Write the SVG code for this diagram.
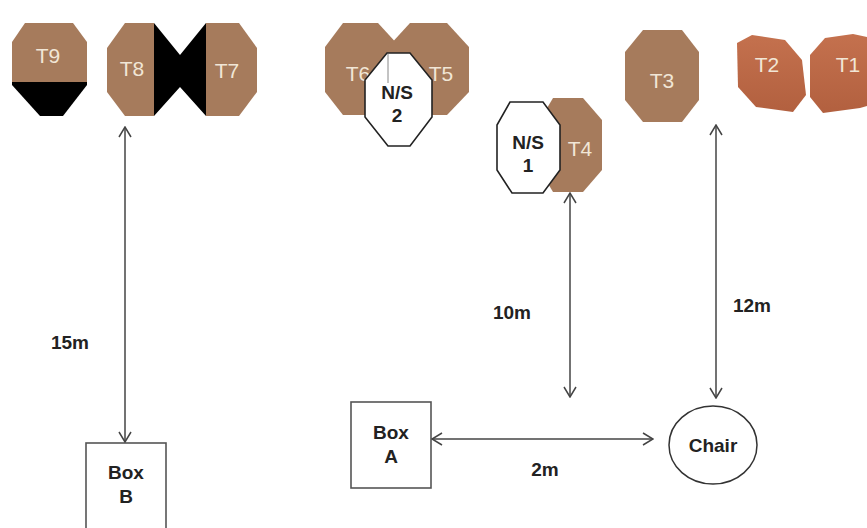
<svg xmlns="http://www.w3.org/2000/svg" width="867" height="528" viewBox="0 0 867 528">
<style>
.tan{fill:#a67b5c}
.blk{fill:#000}
.ns{fill:#fff;stroke:#222;stroke-width:1.6}
.tl{font-family:"Liberation Sans",Arial,sans-serif;font-size:21px;fill:#f1e6d6;text-anchor:middle}
.bl{font-family:"Liberation Sans",Arial,sans-serif;font-size:19px;font-weight:bold;fill:#222;text-anchor:middle}
.box{fill:#fff;stroke:#555;stroke-width:1.6}
.con{stroke:#444;stroke-width:1.5;fill:none;marker-start:url(#ah);marker-end:url(#ah)}
</style>
<defs>
<marker id="ah" viewBox="0 0 12 14" refX="11" refY="7" markerWidth="12" markerHeight="14" markerUnits="userSpaceOnUse" orient="auto-start-reverse">
<path d="M1,1 L11,7 L1,13" fill="none" stroke="#444" stroke-width="1.5"/>
</marker>
<linearGradient id="rg" x1="0" y1="0" x2="0" y2="1">
<stop offset="0" stop-color="#c4714e"/>
<stop offset="1" stop-color="#b2603f"/>
</linearGradient>
</defs>
<rect width="867" height="528" fill="#fff"/>

<g id="T9">
<polygon class="tan" points="25,23 73,23 87,42 87,83 12,83 12,42"/>
<polygon class="blk" points="12,82 87,82 87,85 63,116 40,116 12,85"/>
<text class="tl" x="48" y="63">T9</text>
</g>

<g id="T8">
<polygon class="tan" points="125,23 154,23 154,116 125,116 107,92 107,48"/>
<text class="tl" x="132" y="76">T8</text>
</g>
<g id="T8-T7-black">
<polygon class="blk" points="154,23 180,55 206,23 206,116 180,87 154,116"/>
</g>
<g id="T7">
<polygon class="tan" points="206,23 239,23 257,48 257,92 239,116 206,116"/>
<text class="tl" x="227" y="78">T7</text>
</g>

<g id="T6">
<polygon class="tan" points="343,23 378,23 400,47 400,92 378,115 343,115 325,92 325,47"/>
<text class="tl" x="358" y="81">T6</text>
</g>
<g id="T5">
<polygon class="tan" points="410,23 447,23 469,47 469,92 447,115 410,115 388,92 388,47"/>
<text class="tl" x="441" y="81">T5</text>
</g>
<g id="NS2">
<polygon class="ns" points="387,53 410,53 432,80 432,117 410,146 388,146 365,117 365,80"/>
<line x1="388" y1="54" x2="388" y2="83" stroke="#888" stroke-width="1"/>
<text class="bl" x="397" y="99">N/S</text>
<text class="bl" x="397" y="122">2</text>
</g>

<g id="T4">
<polygon class="tan" points="553,98 583,98 602,120 602,170 583,192 553,192 540,170 540,120"/>
<text class="tl" x="580" y="156">T4</text>
</g>
<g id="NS1">
<polygon class="ns" points="510,102 543,102 560,125 560,170 543,193 512,193 497,170 497,125"/>
<text class="bl" x="528" y="149">N/S</text>
<text class="bl" x="528" y="172">1</text>
</g>

<g id="T3">
<polygon class="tan" points="643,30 682,30 699,52 699,100 682,122 643,122 625,100 625,52"/>
<text class="tl" x="662" y="88">T3</text>
</g>

<g id="T2">
<polygon fill="url(#rg)" points="737,43 752,35 785,40 802,60 806,95 793,112 756,107 738,87"/>
<text class="tl" x="767" y="72">T2</text>
</g>
<g id="T1">
<polygon fill="url(#rg)" points="810,55 825,38 853,34 867,37 867,106 860,108 823,113 810,97"/>
<text class="tl" x="848" y="72">T1</text>
</g>

<g id="BoxB">
<rect class="box" x="86" y="443" width="80" height="90"/>
<text class="bl" x="126" y="479">Box</text>
<text class="bl" x="126" y="503">B</text>
</g>

<g id="BoxA">
<rect class="box" x="351" y="402" width="80" height="86"/>
<text class="bl" x="391" y="439">Box</text>
<text class="bl" x="391" y="463">A</text>
</g>

<g id="Chair">
<ellipse cx="713" cy="445" rx="44" ry="39" fill="#fff" stroke="#333" stroke-width="1.5"/>
<text class="bl" x="713" y="452">Chair</text>
</g>

<g id="connectors">
<line class="con" x1="125" y1="127" x2="125" y2="442"/>
<line class="con" x1="570" y1="193" x2="570" y2="397"/>
<line class="con" x1="716" y1="125" x2="716" y2="398"/>
<line class="con" x1="432" y1="439" x2="653" y2="439"/>
</g>

<g id="labels">
<text class="bl" x="70" y="349">15m</text>
<text class="bl" x="512" y="319">10m</text>
<text class="bl" x="752" y="312">12m</text>
<text class="bl" x="545" y="476">2m</text>
</g>
</svg>
